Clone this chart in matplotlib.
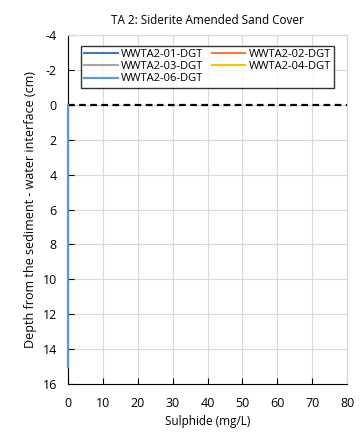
import matplotlib.pyplot as plt

plt.rcParams['font.family'] = ['Open Sans', 'DejaVu Sans']
plt.rcParams['axes.unicode_minus'] = False

# profile data: sulphide (mg/L) vs depth (cm)
series_names = ['WWTA2-01-DGT', 'WWTA2-02-DGT', 'WWTA2-03-DGT', 'WWTA2-04-DGT', 'WWTA2-06-DGT']
series_colors = ['#4472c4', '#ed7d31', '#a5a5a5', '#ffc000', '#5b9bd5']
depth_06 = [0, 15]
sulphide_06 = [0, 0]
x_ticks = [0, 10, 20, 30, 40, 50, 60, 70, 80]
y_ticks = [-4, -2, 0, 2, 4, 6, 8, 10, 12, 14, 16]

fig = plt.figure(figsize=(3.6, 4.45), dpi=100)
ax = fig.add_axes([0.189, 0.137, 0.775, 0.784])

handles = {}
for name, color in zip(series_names[:-1], series_colors[:-1]):
    handles[name], = ax.plot([], [], color=color, lw=1.5, label=name)
handles[series_names[-1]], = ax.plot(sulphide_06, depth_06, color=series_colors[-1], lw=1.6,
                                     label=series_names[-1], clip_on=False, zorder=5)

ax.axhline(0, color='black', ls=(0, (3, 2)), lw=1.6, zorder=4)

ax.set_xlim(0, 80)
ax.set_ylim(16, -4)
ax.set_xticks(x_ticks)
ax.set_yticks(y_ticks)
ax.grid(True, color='#d9d9d9', lw=0.8)
ax.set_axisbelow(True)
ax.tick_params(direction='in', length=4, labelsize=9, color='black')
ax.tick_params(axis='x', pad=9)
ax.tick_params(axis='y', pad=8)
for s in ['top', 'right']:
    ax.spines[s].set_color('#d9d9d9')
for s in ['left', 'bottom']:
    ax.spines[s].set_color('black')

ax.set_title('TA 2: Siderite Amended Sand Cover', fontsize=8.5, pad=8)
ax.set_xlabel('Sulphide (mg/L)', fontsize=8.5)
ax.set_ylabel('Depth from the sediment - water interface (cm)', fontsize=9)

# row-major order in a 2-column legend
order = ['WWTA2-01-DGT', 'WWTA2-03-DGT', 'WWTA2-06-DGT', 'WWTA2-02-DGT', 'WWTA2-04-DGT']
leg = ax.legend([handles[n] for n in order], order, ncol=2, loc='upper center', fontsize=8,
                frameon=True, fancybox=False, edgecolor='black', handlelength=3.0,
                columnspacing=0.8, handletextpad=0.3, borderpad=0.3, labelspacing=0.1,
                bbox_to_anchor=(0.5, 0.985))
leg.get_frame().set_linewidth(1.0)

fig.savefig('out.png', dpi=100)
